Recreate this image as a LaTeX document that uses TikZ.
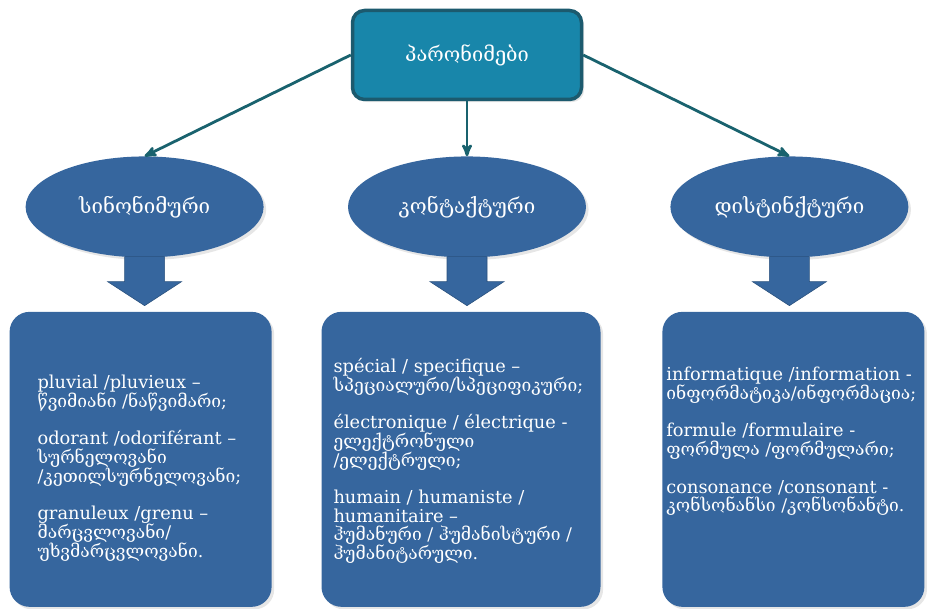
\documentclass[tikz,border=0pt]{standalone}
\usepackage{fontspec}
\setmainfont{DejaVu Serif}
\newfontfamily\kafont{DejaVu Serif}[Scale=0.98]
\newcommand{\geo}[1]{{\kafont #1}}
\usepackage{tikz}
\usetikzlibrary{shapes,arrows,positioning,calc,shadows}
\setlength{\lineskiplimit}{-30pt}
\definecolor{tealfill}{RGB}{24,134,170}
\definecolor{tealline}{RGB}{28,90,110}
\definecolor{linkcol}{RGB}{25,98,110}
\definecolor{bluefill}{RGB}{54,102,158}
\tikzset{
head/.style = {draw=tealline, line width=3.5pt, fill=tealfill, rounded corners=12pt, minimum width=229pt, minimum height=89pt, text=white, font=\fontsize{20}{22}\selectfont, drop shadow={opacity=0.2}},
kind/.style = {ellipse, fill=bluefill, minimum width=238pt, minimum height=101pt, text=white, font=\fontsize{20.5}{22}\selectfont, drop shadow={opacity=0.2}},
infobox/.style = {fill=bluefill, rounded corners=20pt, minimum width=262pt, minimum height=295pt, drop shadow={opacity=0.2}},
boxtext/.style = {inner sep=0pt, align=left, text=white, font=\fontsize{17.8}{18.7}\selectfont},
link/.style = {->, draw=linkcol, line width=2.8pt},
fat/.style = {fill=bluefill, draw=bluefill!80!black, line width=0.6pt}
}
% thick block arrow from an oval down to its box
\newcommand{\fatarrow}[2]{
  \filldraw [fat] ($(#1.south)+(-20,1)$) -- ($(#1.south)+(20,1)$)
    -- ($(#1.south |- #2.north)+(20,30)$) -- ($(#1.south |- #2.north)+(37,30)$)
    -- ($(#1.south |- #2.north)+(0,6)$) -- ($(#1.south |- #2.north)+(-37,30)$)
    -- ($(#1.south |- #2.north)+(-20,30)$) -- cycle;
}

\begin{document}
\begin{tikzpicture}[x=1pt,y=1pt,>=stealth']
    \useasboundingbox (0,0) rectangle (927,609);
    \node [head] (par) at (467,554) {პარონიმები};
    \node [kind, below=55pt of par] (kont) {კონტაქტური};
    \node [kind, left=84pt of kont] (sin) {სინონიმური};
    \node [kind, right=84pt of kont] (dis) {დისტინქტური};
    \draw [link] (par.west) -- (sin.north);
    \draw [link] (par) -- (kont);
    \draw [link] (par.east) -- (dis.north);
    \node [infobox, below=54pt of sin, xshift=-4pt] (sinbox) {};
    \node [infobox, below=54pt of kont, xshift=-6pt, minimum width=279pt] (kontbox) {};
    \node [infobox, below=54pt of dis, xshift=4pt] (disbox) {};
    \fatarrow{sin}{sinbox}
    \fatarrow{kont}{kontbox}
    \fatarrow{dis}{disbox}
    \node [boxtext, below right=63.5pt and 28pt of sinbox.north west] (sintext) {pluvial /pluvieux –\\
        \geo{წვიმიანი /ნაწვიმარი;}\\[18.7pt]
        odorant /odoriférant –\\
        \geo{სურნელოვანი}\\
        \geo{/კეთილსურნელოვანი;}\\[18.7pt]
        granuleux /grenu –\\
        \geo{მარცვლოვანი/}\\
        \geo{უხვმარცვლოვანი.}};
    \node [boxtext, below right=46.5pt and 12pt of kontbox.north west] (konttext) {spécial / specifique –\\
        \geo{სპეციალური/სპეციფიკური;}\\[18.7pt]
        électronique / électrique -\\
        \geo{ელექტრონული}\\
        \geo{/ელექტრული;}\\[18.7pt]
        humain / humaniste /\\
        humanitaire –\\
        \geo{ჰუმანური / ჰუმანისტური /}\\
        \geo{ჰუმანიტარული.}};
    \node [boxtext, below right=55.5pt and 4pt of disbox.north west] (distext) {informatique /information -\\
        \geo{ინფორმატიკა/ინფორმაცია;}\\[18.7pt]
        formule /formulaire -\\
        \geo{ფორმულა /ფორმულარი;}\\[18.7pt]
        consonance /consonant -\\
        \geo{კონსონანსი /კონსონანტი.}};
\end{tikzpicture}
\end{document}
